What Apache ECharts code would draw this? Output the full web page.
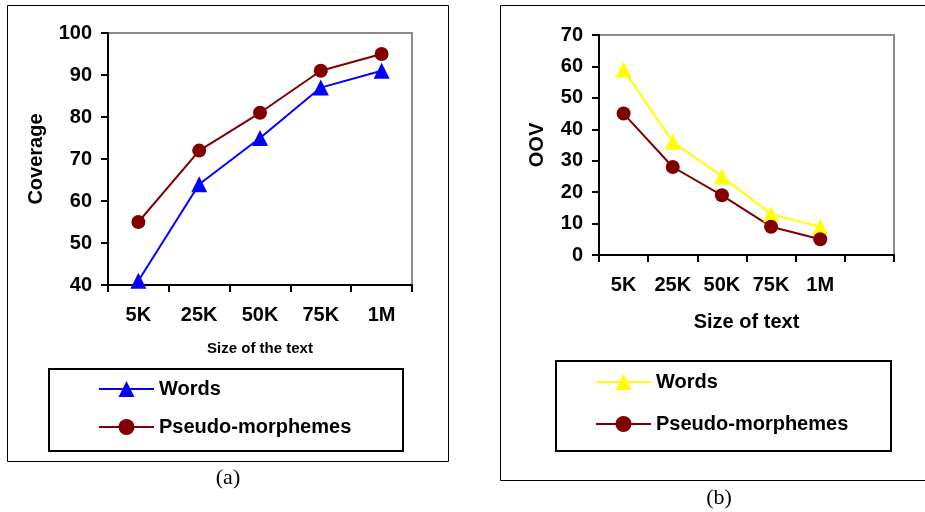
<!DOCTYPE html>
<html>
<head>
<meta charset="utf-8">
<script src="https://cdn.jsdelivr.net/npm/echarts@6/dist/echarts.min.js"></script>
<style>html,body{margin:0;padding:0;background:#fff;}#c{width:925px;height:512px;}</style>
</head>
<body>
<div id="c"></div>
<script>
const categoriesA = ['5K', '25K', '50K', '75K', '1M'];
const wordsCoverage = [41, 64, 75, 87, 91];
const pseudoCoverage = [55, 72, 81, 91, 95];
const categoriesB = ['5K', '25K', '50K', '75K', '1M', ''];
const wordsOOV = [59, 36, 25, 13, 9];
const pseudoOOV = [45, 28, 19, 9, 5];

const FONT = 'Arial, "Liberation Sans", sans-serif';
const chart = echarts.init(document.getElementById('c'), null, {renderer: 'canvas'});

function yAxisCfg(gridIndex, min, max, name, gap) {
  return {
    type: 'value', gridIndex, min, max, interval: 10,
    name, nameLocation: 'middle', nameGap: gap, nameRotate: 90,
    nameTextStyle: {fontFamily: FONT, fontWeight: 'bold', fontSize: 20, color: '#000'},
    axisLine: {show: true, lineStyle: {color: '#000', width: 2}},
    axisTick: {show: true, inside: false, length: 7, lineStyle: {color: '#000', width: 2}},
    axisLabel: {fontFamily: FONT, fontWeight: 'bold', fontSize: 20, color: '#000', margin: 16},
    splitLine: {show: false}
  };
}
function xAxisCfg(gridIndex, data, name, gap, nameSize) {
  return {
    type: 'category', gridIndex, data, boundaryGap: true,
    name, nameLocation: 'middle', nameGap: gap,
    nameTextStyle: {fontFamily: FONT, fontWeight: 'bold', fontSize: nameSize, color: '#000'},
    axisLine: {show: true, lineStyle: {color: '#000', width: 2}},
    axisTick: {show: true, inside: false, length: 7, alignWithLabel: false, lineStyle: {color: '#000', width: 2}},
    axisLabel: {fontFamily: FONT, fontWeight: 'bold', fontSize: 20, color: '#000', margin: 20, interval: 0},
    splitLine: {show: false}
  };
}
function lineSeries(name, xi, yi, data, color, symbol, size) {
  return {
    type: 'line', name, xAxisIndex: xi, yAxisIndex: yi, data,
    symbol, symbolSize: size, showSymbol: true,
    lineStyle: {color, width: 2},
    itemStyle: {color, borderWidth: 0},
    emphasis: {disabled: true},
    animation: false
  };
}
function legendCfg(names, left, top, gap) {
  return {
    data: names, orient: 'vertical', left, top, itemGap: gap,
    itemWidth: 55, itemHeight: 20, padding: 0, selectedMode: false,
    formatter: n => n.replace('_b', ''),
    textStyle: {fontFamily: FONT, fontWeight: 'bold', fontSize: 20, color: '#000', lineHeight: 20}
  };
}

chart.setOption({
  backgroundColor: '#fff',
  animation: false,
  grid: [
    {left: 108, top: 33, width: 304, height: 252, show: true, borderColor: '#8c8c8c', borderWidth: 2, backgroundColor: 'transparent'},
    {left: 599, top: 35, width: 295, height: 220, show: true, borderColor: '#8c8c8c', borderWidth: 2, backgroundColor: 'transparent'}
  ],
  xAxis: [
    xAxisCfg(0, categoriesA, 'Size of the text', 56, 15),
    xAxisCfg(1, categoriesB, 'Size of text', 57, 20)
  ],
  yAxis: [
    yAxisCfg(0, 40, 100, 'Coverage', 62),
    yAxisCfg(1, 0, 70, 'OOV', 52)
  ],
  legend: [
    legendCfg(['Words', 'Pseudo-morphemes'], 98, 379, 18),
    legendCfg(['Words_b', 'Pseudo-morphemes_b'], 595, 372, 22)
  ],
  series: [
    lineSeries('Words', 0, 0, wordsCoverage, '#0000ff', 'triangle', 16),
    lineSeries('Pseudo-morphemes', 0, 0, pseudoCoverage, '#800000', 'circle', 14),
    lineSeries('Words_b', 1, 1, wordsOOV, '#ffff00', 'triangle', 16),
    lineSeries('Pseudo-morphemes_b', 1, 1, pseudoOOV, '#800000', 'circle', 14)
  ],
  graphic: [
    {type: 'rect', shape: {x: 7.5, y: 5.5, width: 441, height: 456}, style: {fill: 'none', stroke: '#000', lineWidth: 1}, silent: true, z: -1},
    {type: 'rect', shape: {x: 500.5, y: 5.5, width: 440, height: 475}, style: {fill: 'none', stroke: '#000', lineWidth: 1}, silent: true, z: -1},
    {type: 'rect', shape: {x: 49, y: 369, width: 354, height: 82}, style: {fill: 'none', stroke: '#000', lineWidth: 2}, silent: true, z: -1},
    {type: 'rect', shape: {x: 556, y: 361, width: 335, height: 90}, style: {fill: 'none', stroke: '#000', lineWidth: 2}, silent: true, z: -1},
    {type: 'text', x: 228, y: 478, style: {text: '(a)', font: '22px "Liberation Serif", "Times New Roman", serif', fill: '#000', align: 'center', verticalAlign: 'middle'}, silent: true},
    {type: 'text', x: 719, y: 498, style: {text: '(b)', font: '22px "Liberation Serif", "Times New Roman", serif', fill: '#000', align: 'center', verticalAlign: 'middle'}, silent: true}
  ]
});
</script>
</body>
</html>
